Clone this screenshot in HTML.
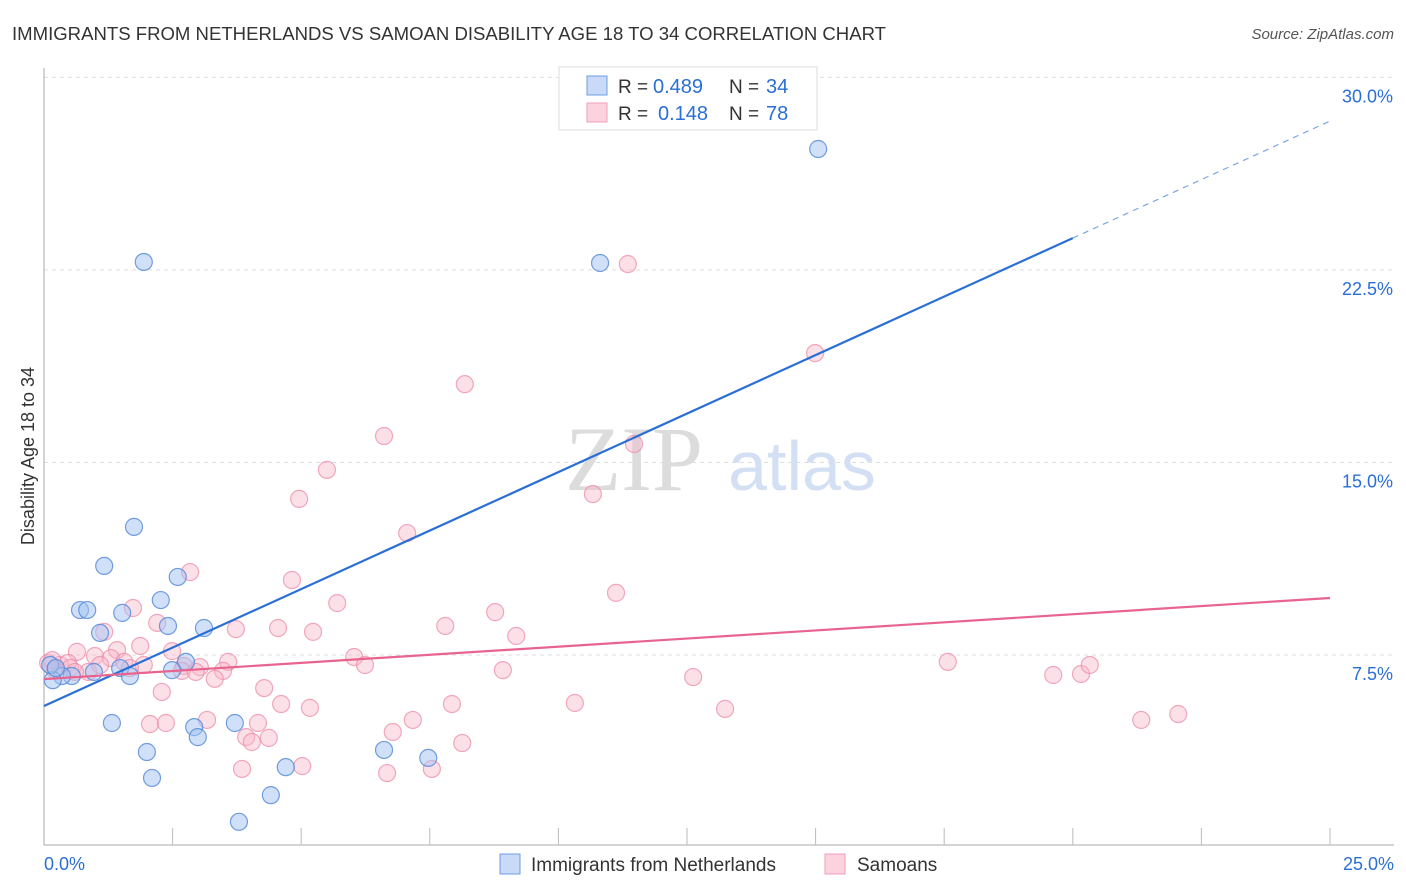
<!DOCTYPE html>
<html><head><meta charset="utf-8">
<style>
body{margin:0;background:#fff;font-family:"Liberation Sans",sans-serif;}
svg{display:block}
</style></head>
<body>
<svg id="chart" width="1406" height="892">
<text x="12" y="40" font-size="18" fill="#333" textLength="874" lengthAdjust="spacingAndGlyphs">IMMIGRANTS FROM NETHERLANDS VS SAMOAN DISABILITY AGE 18 TO 34 CORRELATION CHART</text>
<text x="1394" y="39" font-size="15" fill="#555" font-style="italic" text-anchor="end">Source: ZipAtlas.com</text>
<g id="grid"></g>
<text x="634" y="490" font-size="92" fill="#dcdcdc" font-family="Liberation Serif,serif" text-anchor="middle">ZIP</text>
<text x="802" y="490" font-size="70" fill="#d3e0f3" text-anchor="middle">atlas</text>
<g id="points"></g>
<g id="lines"></g>
<text transform="translate(34,456) rotate(-90)" font-size="18" fill="#333" text-anchor="middle">Disability Age 18 to 34</text>
<g>
<rect x="559" y="67" width="258" height="63" fill="#fff" stroke="#ddd"/>
<rect x="587" y="76" width="20" height="19" fill="rgba(164,194,244,0.6)" stroke="#6d9de0"/>
<rect x="587" y="103" width="20" height="19" fill="rgba(248,180,200,0.6)" stroke="#f0a0b8"/>
<text x="618" y="93" font-size="19" fill="#333">R =</text>
<text x="653" y="93" font-size="20" fill="#2a6fd6">0.489</text>
<text x="729" y="93" font-size="19" fill="#333">N =</text>
<text x="766" y="93" font-size="20" fill="#2a6fd6">34</text>
<text x="618" y="120" font-size="19" fill="#333">R =</text>
<text x="658" y="120" font-size="20" fill="#2a6fd6">0.148</text>
<text x="729" y="120" font-size="19" fill="#333">N =</text>
<text x="766" y="120" font-size="20" fill="#2a6fd6">78</text>
</g>
<g>
<rect x="500" y="854" width="20" height="20" fill="rgba(164,194,244,0.6)" stroke="#6d9de0"/>
<text x="531" y="871" font-size="19" fill="#333">Immigrants from Netherlands</text>
<rect x="825" y="854" width="20" height="20" fill="rgba(248,180,200,0.6)" stroke="#f0a0b8"/>
<text x="857" y="871" font-size="19" fill="#333">Samoans</text>
</g>
</svg>
<script>
const yTicks=[7.5,15,22.5,30];
const yTickLabels=["7.5%","15.0%","22.5%","30.0%"];
const xTickVals=[2.5,5,7.5,10,12.5,15,17.5,20,22.5,25];
const xLabels=["0.0%","25.0%"];
const blueX=[15.05,1.94,10.81,1.75,1.17,2.60,0.70,0.84,1.52,2.27,2.41,3.11,1.09,2.76,2.49,1.48,1.67,0.97,0.54,0.35,0.17,0.12,0.23,1.32,2.92,3.71,2.99,2.00,6.61,7.47,2.10,4.70,4.41,3.79];
const blueY=[27.21,22.81,22.77,12.49,10.97,10.54,9.25,9.25,9.14,9.64,8.63,8.55,8.36,7.23,6.91,6.99,6.68,6.84,6.68,6.68,6.52,7.11,6.99,4.85,4.69,4.85,4.30,3.72,3.80,3.49,2.71,3.13,2.04,1.00];
const pinkX=[11.35,14.99,8.18,6.61,11.47,5.50,4.96,10.67,7.06,2.84,4.82,11.12,5.70,8.77,1.73,2.20,3.73,4.55,5.23,7.80,9.18,1.17,1.87,1.42,0.64,0.99,2.49,1.30,6.03,6.24,3.58,2.72,3.03,1.94,1.56,0.31,0.47,0.08,0.21,0.86,2.68,2.95,3.48,3.32,8.92,12.62,17.57,19.62,20.16,20.33,2.29,4.28,4.61,5.17,7.93,10.32,13.24,3.17,2.06,2.37,4.16,7.17,3.93,4.04,4.37,6.78,8.13,21.33,22.05,3.85,5.02,6.67,7.54,0.51,0.16,1.67,0.60,1.09];
const pinkY=[22.73,19.26,18.05,16.03,15.72,14.71,13.58,13.77,12.25,10.73,10.42,9.92,9.52,9.17,9.33,8.75,8.51,8.55,8.40,8.63,8.24,8.40,7.85,7.69,7.62,7.46,7.65,7.38,7.42,7.11,7.23,7.07,7.03,7.11,7.23,7.11,7.19,7.19,6.91,6.84,6.88,6.84,6.88,6.57,6.91,6.64,7.23,6.72,6.76,7.11,6.06,6.21,5.59,5.44,5.59,5.63,5.40,4.97,4.81,4.85,4.85,4.97,4.30,4.11,4.27,4.50,4.07,4.97,5.20,3.06,3.17,2.90,3.06,6.99,7.30,6.99,6.84,7.11];
const blueTrend=[5.51,23.74,28.3];
const pinkTrend=[6.56,9.72];
const NS="http://www.w3.org/2000/svg";
const xs=v=>44+v*51.44, ys=v=>847.5-v*25.67;
function mk(tag,attrs,parent){const e=document.createElementNS(NS,tag);for(const k in attrs)e.setAttribute(k,attrs[k]);parent.appendChild(e);return e;}
const grid=document.getElementById('grid');
yTicks.forEach((t,i)=>{
 const l=mk('line',{x1:44,x2:1394,y1:ys(t),y2:ys(t),stroke:'#ddd','stroke-dasharray':'4,4'},grid);
 
 
 const tx=mk('text',{x:1393,y:ys(t)+25,'font-size':18,fill:'#2a6fd6','text-anchor':'end'},grid);
 tx.textContent=yTickLabels[i];
 
 
});
const ax=mk('line',{x1:44,x2:44,y1:68,y2:845,stroke:'#aaa'},grid);


const bx=mk('line',{x1:44,x2:1394,y1:845,y2:845,stroke:'#aaa'},grid);


xTickVals.forEach(t=>{const l=mk('line',{x1:xs(t),x2:xs(t),y1:828,y2:845,stroke:'#bbb'},grid);
 
 });
[[0,'start',44],[25,'end',1394]].forEach((d,i)=>{const t=mk('text',{x:d[2],y:870,'font-size':18,fill:'#2a6fd6','text-anchor':d[1]},grid);t.textContent=xLabels[i];
 
 });
const pts=document.getElementById('points');
pinkX.forEach((x,i)=>{const c=mk('circle',{cx:xs(x),cy:ys(pinkY[i]),r:8.5,fill:'rgba(248,180,200,0.42)',stroke:'rgba(236,140,170,0.75)','stroke-width':1.2},pts);
 
 });
blueX.forEach((x,i)=>{const c=mk('circle',{cx:xs(x),cy:ys(blueY[i]),r:8.5,fill:'rgba(164,194,244,0.5)',stroke:'rgba(80,135,215,0.8)','stroke-width':1.2},pts);
 
 });
const ln=document.getElementById('lines');
const b1=mk('line',{x1:xs(0),y1:ys(blueTrend[0]),x2:xs(20),y2:ys(blueTrend[1]),stroke:'#2a6fd6','stroke-width':2.2},ln);


const b2=mk('line',{x1:xs(20),y1:ys(blueTrend[1]),x2:xs(25),y2:ys(blueTrend[2]),stroke:'#7aa6e6','stroke-width':1.2,'stroke-dasharray':'6,5'},ln);


const p1=mk('line',{x1:xs(0),y1:ys(pinkTrend[0]),x2:xs(25),y2:ys(pinkTrend[1]),stroke:'#e8648e','stroke-width':2.2},ln);


</script>
</body></html>
